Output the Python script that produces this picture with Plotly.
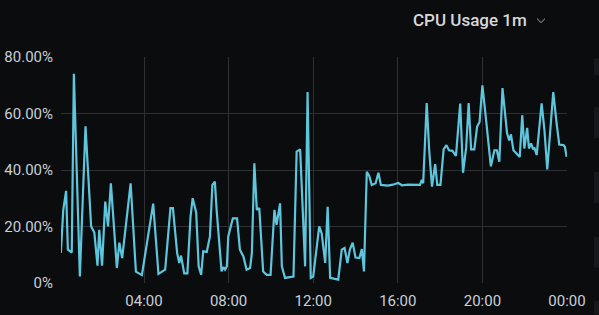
import plotly.graph_objects as go

# ---- data (time of day, CPU %) ----
times = [
    "00:04", "00:11", "00:19", "00:24", "00:35", "00:41", "00:58", "01:14", "01:30", "01:39",
    "01:48", "01:53", "02:01", "02:10", "02:18", "02:26", "02:43", "02:50", "02:58", "03:22",
    "03:37", "03:54", "04:26", "04:37", "04:41", "05:00", "05:15", "05:22", "05:34", "05:40",
    "05:45", "05:54", "06:03", "06:12", "06:18", "06:28", "06:35", "06:42", "06:48", "06:58",
    "07:07", "07:14", "07:21", "07:26", "07:36", "07:40", "07:45", "07:50", "07:55", "07:59",
    "08:12", "08:24", "08:32", "08:42", "08:51", "09:01", "09:06", "09:13", "09:20", "09:27",
    "09:38", "09:48", "09:59", "10:10", "10:16", "10:26", "10:31", "10:40", "11:04", "11:13",
    "11:23", "11:37", "11:44", "11:53", "12:00", "12:17", "12:24", "12:34", "12:41", "12:48",
    "13:11", "13:21", "13:29", "13:37", "13:44", "13:52", "14:00", "14:11", "14:18", "14:24",
    "14:32", "14:39", "14:46", "14:57", "15:05", "15:12", "15:32", "15:46", "16:01", "16:12",
    "16:29", "16:46", "17:03", "17:08", "17:12", "17:22", "17:29", "17:37", "17:46", "17:52",
    "18:01", "18:10", "18:18", "18:25", "18:35", "18:45", "18:57", "19:05", "19:14", "19:21",
    "19:28", "19:37", "19:45", "19:52", "20:00", "20:11", "20:24", "20:34", "20:41", "20:48",
    "20:57", "21:10", "21:16", "21:21", "21:28", "21:38", "21:46", "21:53", "21:59", "22:07",
    "22:12", "22:18", "22:24", "22:27", "22:34", "22:48", "22:56", "23:04", "23:21", "23:31",
    "23:38", "23:50", "23:54", "23:59",
]
cpu_pct = [
    10.6, 25.9, 32.6, 11.8, 10.8, 74.1, 2.3, 55.5, 20.0, 17.9,
    6.1, 18.8, 6.1, 28.8, 20.0, 35.3, 5.3, 14.3, 8.8, 35.3,
    4.0, 2.8, 28.1, 7.6, 3.2, 4.7, 26.5, 26.5, 10.6, 7.1,
    9.7, 3.4, 3.4, 23.5, 30.0, 25.0, 5.9, 2.9, 11.2, 11.0,
    16.5, 34.7, 35.9, 25.9, 8.2, 4.1, 5.6, 4.7, 5.9, 16.5,
    22.9, 22.9, 11.8, 9.4, 4.7, 5.3, 10.6, 42.4, 25.9, 26.5,
    4.1, 2.9, 2.9, 25.9, 20.6, 28.2, 5.9, 1.8, 2.3, 46.5,
    47.3, 5.9, 67.6, 1.8, 2.3, 20.0, 17.6, 7.1, 27.0, 1.8,
    1.2, 11.8, 12.4, 7.1, 11.8, 14.3, 9.0, 8.8, 12.0, 4.1,
    39.4, 37.9, 34.7, 35.3, 39.0, 34.7, 34.5, 34.8, 35.4, 34.6,
    34.8, 34.7, 34.7, 36.5, 35.3, 63.7, 47.0, 34.1, 42.1, 34.7,
    34.7, 47.3, 48.8, 47.0, 46.8, 45.0, 63.5, 39.0, 48.0, 63.7,
    47.3, 47.3, 55.4, 57.0, 70.0, 57.0, 41.3, 47.0, 47.0, 42.9,
    69.0, 53.0, 50.5, 52.6, 47.0, 45.7, 44.6, 59.4, 47.6, 54.9,
    47.6, 49.4, 47.3, 48.0, 45.3, 63.6, 54.1, 40.2, 67.6, 56.0,
    49.0, 48.8, 48.2, 44.7,
]
series_name = "CPU Usage 1m"
y_tick_values = [0, 20, 40, 60, 80]
y_tick_labels = ["0%", "20.00%", "40.00%", "60.00%", "80.00%"]
x_tick_values = ["2024-01-01 04:00", "2024-01-01 08:00", "2024-01-01 12:00",
                 "2024-01-01 16:00", "2024-01-01 20:00", "2024-01-02 00:00"]
x_tick_labels = ["04:00", "08:00", "12:00", "16:00", "20:00", "00:00"]

x_vals = ["2024-01-01 " + t for t in times]

BG = "#0b0c0e"
GRID = "#2f3034"
TXT = "#c7d0d9"
LINE = "#5ec6dc"

fig = go.Figure()
fig.add_trace(go.Scatter(
    x=x_vals, y=cpu_pct, mode="lines", name=series_name,
    line=dict(color=LINE, width=2.2), showlegend=False,
))

fig.update_layout(
    width=599, height=315,
    margin=dict(l=61, r=32, t=57, b=32),
    paper_bgcolor=BG, plot_bgcolor=BG,
    font=dict(family="Roboto, Inter, sans-serif", size=15, color=TXT),
    xaxis=dict(
        type="date", automargin=False,
        range=["2024-01-01 00:04:30", "2024-01-02 00:00"],
        tickvals=x_tick_values, ticktext=x_tick_labels,
        showgrid=True, gridcolor=GRID, gridwidth=1,
        zeroline=False, showline=False, ticks="",
        ticklabelstandoff=7,
    ),
    yaxis=dict(
        automargin=False,
        range=[0, 80],
        tickvals=y_tick_values, ticktext=y_tick_labels,
        showgrid=True, gridcolor=GRID, gridwidth=1,
        zeroline=False, showline=False, ticks="",
        ticklabelstandoff=7,
    ),
)

# series title at top right
fig.add_annotation(
    text=series_name, xref="paper", yref="paper",
    x=(411 - 61) / 506, y=1 + (57 - 20) / 226.6,
    xanchor="left", yanchor="middle", showarrow=False,
    font=dict(size=17, color="#d8d9da", weight=500),
)
# small dropdown chevron
fig.add_shape(
    type="path", xref="paper", yref="paper",
    path="M {0} {1} L {2} {3} L {4} {1}".format(
        (537 - 61) / 506, 1 + (57 - 18.5) / 226.6,
        (541 - 61) / 506, 1 + (57 - 22.5) / 226.6,
        (545 - 61) / 506),
    line=dict(color="#9fa7b3", width=1),
)
# faint side-panel blocks at the right edge
for y0, y1 in [(58, 75), (107, 138), (172, 203), (237, 268), (301, 315)]:
    fig.add_shape(
        type="rect", xref="paper", yref="paper",
        x0=(594 - 61) / 506, x1=(600 - 61) / 506,
        y0=(283.3 - y1) / 226.6, y1=(283.3 - y0) / 226.6,
        fillcolor="#17181b", line=dict(width=0), layer="below",
    )

fig.write_html("out.html")
